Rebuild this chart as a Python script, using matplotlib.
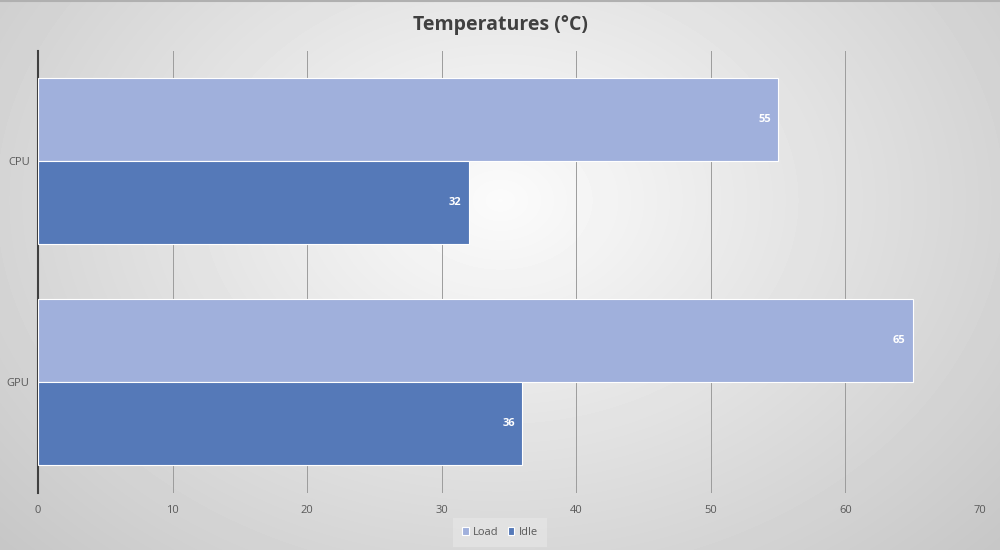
import numpy as np
import matplotlib.pyplot as plt
from matplotlib import rcParams

rcParams['font.family'] = ['Open Sans', 'DejaVu Sans']

# data
categories = ['GPU', 'CPU']
load = [65, 55]
idle = [36, 32]
xticks = [0, 10, 20, 30, 40, 50, 60, 70]

load_color = '#a0b0dc'
idle_color = '#5579b8'

fig = plt.figure(figsize=(10, 5.5), dpi=100)

# radial grey background
bg = fig.add_axes([0, 0, 1, 1], zorder=-10)
yy, xx = np.mgrid[0:550, 0:1000]
r = np.sqrt(((xx - 500) / 560.0) ** 2 + ((yy - 200) / 420.0) ** 2)
shade = np.clip(0.985 - 0.17 * r, 0.76, 1.0)
bg.imshow(shade, cmap='gray', vmin=0, vmax=1, aspect='auto', extent=[0, 1, 0, 1])
bg.set_axis_off()
bg.plot([0, 1], [0.998, 0.998], color='#b0b0b0', lw=1.5, transform=bg.transAxes)

ax = fig.add_axes([0.038, 0.1045, 0.942, 0.8036])
ax.patch.set_alpha(0)

y = np.arange(len(categories))
h = 0.375
b1 = ax.barh(y + h / 2, load, height=h, color=load_color, edgecolor='white', linewidth=0.8, label='Load', zorder=3)
b2 = ax.barh(y - h / 2, idle, height=h, color=idle_color, edgecolor='white', linewidth=0.8, label='Idle', zorder=3)

for bars, vals in [(b1, load), (b2, idle)]:
    for bar, v in zip(bars, vals):
        ax.text(v - 1.0, bar.get_y() + bar.get_height() / 2, str(v), color='white',
                fontsize=8, fontweight='bold', ha='center', va='center', zorder=4)

ax.set_xlim(0, 70)
ax.set_ylim(-0.5, 1.5)
ax.set_xticks(xticks)
ax.set_yticks(y)
ax.set_yticklabels(categories)
ax.grid(axis='x', color='#9c9c9c', linewidth=0.7, zorder=0)
ax.tick_params(length=0, labelsize=8, colors='#595959', pad=9)
ax.tick_params(axis='y', pad=6)
for s in ['top', 'right', 'bottom']:
    ax.spines[s].set_visible(False)
ax.spines['left'].set_color('#404040')
ax.spines['left'].set_linewidth(1.5)

fig.text(0.5, 0.955, 'Temperatures (°C)', ha='center', va='center',
         fontsize=14, fontweight='bold', color='#404040')

leg = fig.legend(loc='center', bbox_to_anchor=(0.5, 0.032), ncol=2, frameon=True,
                 fontsize=8, handlelength=0.6, handleheight=0.6, handletextpad=0.4,
                 columnspacing=0.8, borderpad=0.5)
leg.get_frame().set_facecolor('#e8e8e8')
leg.get_frame().set_edgecolor('none')
leg.get_frame().set_alpha(0.6)
leg.get_frame().set_boxstyle('square')
for t in leg.get_texts():
    t.set_color('#595959')

fig.savefig('out.png', dpi=100)
